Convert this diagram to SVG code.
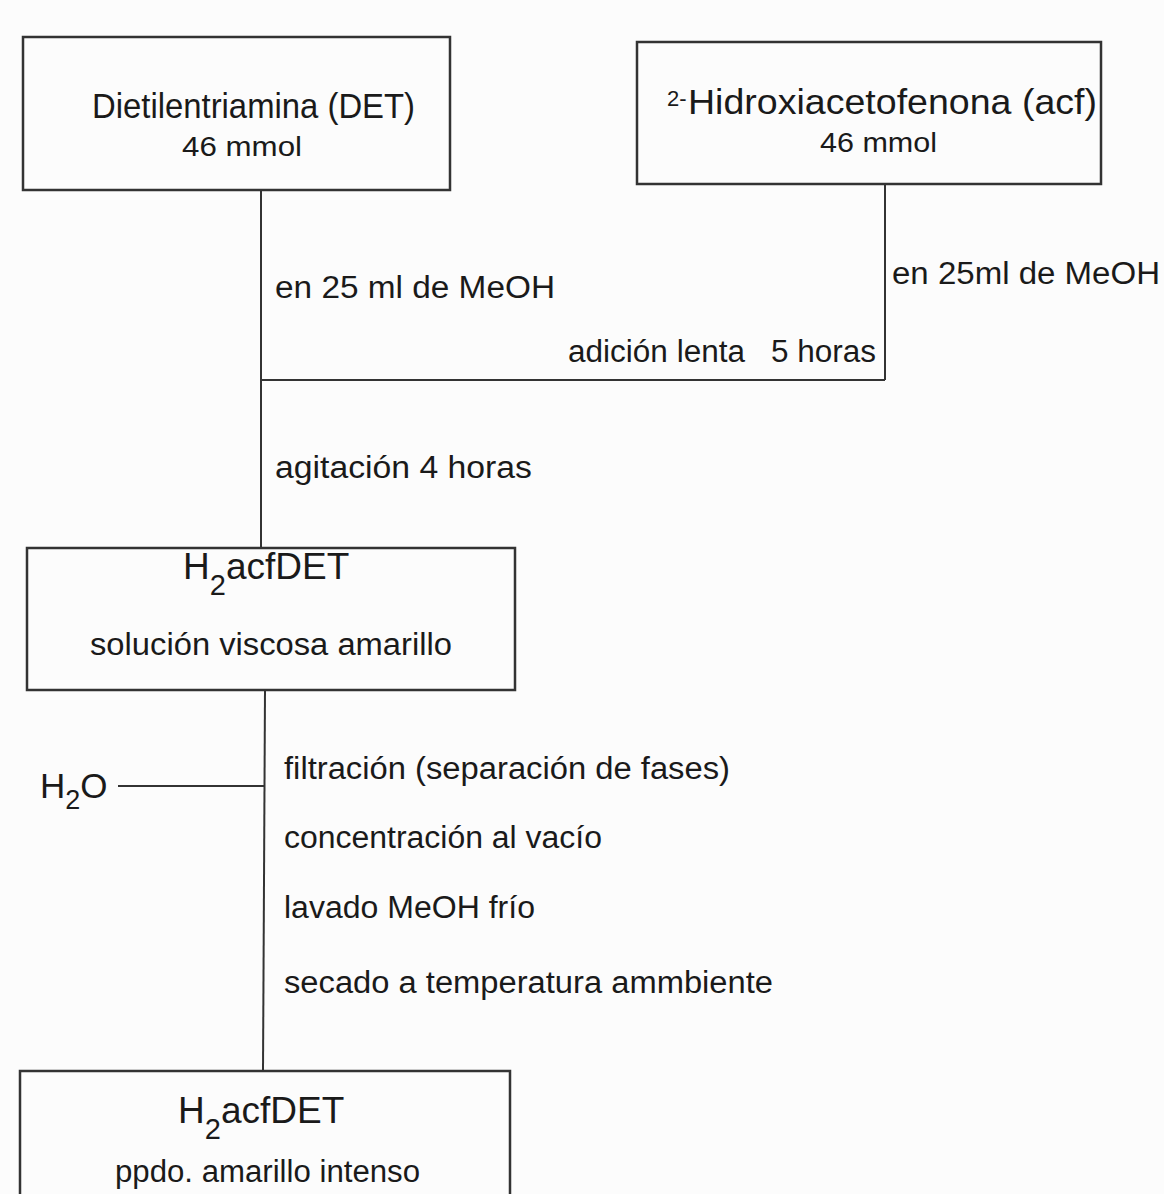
<svg xmlns="http://www.w3.org/2000/svg" width="1164" height="1194" viewBox="0 0 1164 1194">
<style>
.box{fill:none;stroke:#333;stroke-width:2.5}
.ln{fill:none;stroke:#333;stroke-width:2}
text{font-family:"Liberation Sans",Arial,sans-serif;fill:#1a1a1a}
.t1{font-size:35px}
.t2{font-size:28px}
.lb{font-size:31px}
.sup{font-size:22px}
.big{font-size:37px}
.h2o{font-size:35px}
</style>
<rect width="1164" height="1194" fill="#fcfcfc"/>
<g id="connectors">
<line class="ln" x1="261" y1="190" x2="261" y2="548"/>
<line class="ln" x1="885" y1="184" x2="885" y2="380"/>
<line class="ln" x1="261" y1="380" x2="885" y2="380"/>
<line class="ln" x1="265" y1="690" x2="263" y2="1071"/>
<line class="ln" x1="118" y1="786" x2="265" y2="786"/>
</g>
<g id="labels">
<text class="lb" x="275" y="298" textLength="280" lengthAdjust="spacingAndGlyphs">en 25 ml de MeOH</text>
<text class="lb" x="892" y="284" textLength="268" lengthAdjust="spacingAndGlyphs">en 25ml de MeOH</text>
<text class="lb" x="568" y="362" textLength="177" lengthAdjust="spacingAndGlyphs">adición lenta</text>
<text class="lb" x="771" y="362" textLength="105" lengthAdjust="spacingAndGlyphs">5 horas</text>
<text class="lb" x="275" y="478" textLength="257" lengthAdjust="spacingAndGlyphs">agitación 4 horas</text>
<text class="lb" x="284" y="779" textLength="446" lengthAdjust="spacingAndGlyphs">filtración (separación de fases)</text>
<text class="lb" x="284" y="848" textLength="318" lengthAdjust="spacingAndGlyphs">concentración al vacío</text>
<text class="lb" x="284" y="918" textLength="251" lengthAdjust="spacingAndGlyphs">lavado MeOH frío</text>
<text class="lb" x="284" y="993" textLength="489" lengthAdjust="spacingAndGlyphs">secado a temperatura ammbiente</text>
</g>
<g id="h2o">
<text class="h2o" x="40" y="798">H<tspan font-size="27" dy="11">2</tspan><tspan dy="-11">O</tspan></text>
</g>
<g id="det">
<rect class="box" x="23" y="37" width="427" height="153"/>
<text class="t1" x="92" y="118" textLength="323" lengthAdjust="spacingAndGlyphs">Dietilentriamina (DET)</text>
<text class="t2" x="182" y="156" textLength="120" lengthAdjust="spacingAndGlyphs">46 mmol</text>
</g>
<g id="acf">
<rect class="box" x="637" y="42" width="464" height="142"/>
<text class="sup" x="667" y="106">2-</text>
<text class="t1" x="688" y="114" textLength="409" lengthAdjust="spacingAndGlyphs">Hidroxiacetofenona (acf)</text>
<text class="t2" x="820" y="152" textLength="117" lengthAdjust="spacingAndGlyphs">46 mmol</text>
</g>
<g id="h2acfdet1">
<rect class="box" x="27" y="548" width="488" height="142"/>
<text class="big" x="183" y="579">H<tspan font-size="29" dy="16">2</tspan><tspan dy="-16">acfDET</tspan></text>
<text class="lb" x="90" y="655" textLength="362" lengthAdjust="spacingAndGlyphs">solución viscosa amarillo</text>
</g>
<g id="h2acfdet2">
<rect class="box" x="20" y="1071" width="490" height="140"/>
<text class="big" x="178" y="1123">H<tspan font-size="29" dy="16">2</tspan><tspan dy="-16">acfDET</tspan></text>
<text class="lb" x="115" y="1182" textLength="305" lengthAdjust="spacingAndGlyphs">ppdo. amarillo intenso</text>
</g>
</svg>
